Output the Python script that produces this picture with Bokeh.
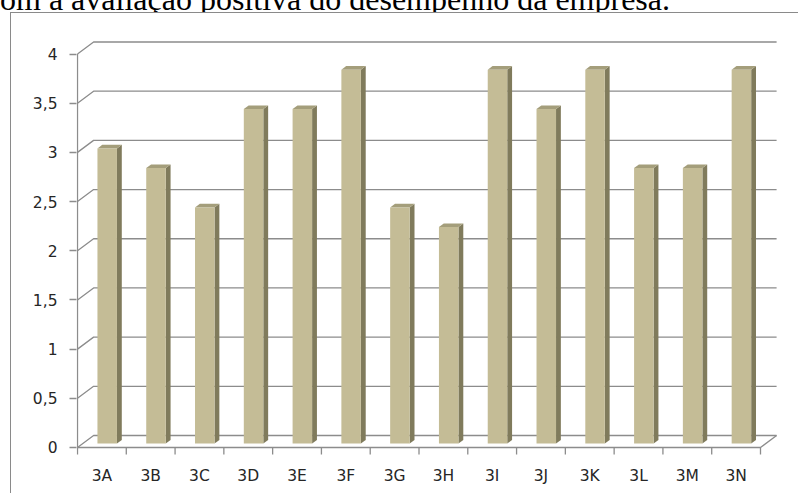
from bokeh.plotting import figure
from bokeh.models import Range1d, FixedTicker, Div
from bokeh.layouts import column
from bokeh.embed import file_html
from bokeh.resources import INLINE

# ---- data ----
categories = ["3A", "3B", "3C", "3D", "3E", "3F", "3G",
              "3H", "3I", "3J", "3K", "3L", "3M", "3N"]
scores = [3.0, 2.8, 2.4, 3.4, 3.4, 3.8, 2.4, 2.2, 3.8, 3.4, 3.8, 2.8, 2.8, 3.8]
y_ticks = [0, 0.5, 1, 1.5, 2, 2.5, 3, 3.5, 4]
y_tick_labels = ["0", "0,5", "1", "1,5", "2", "2,5", "3", "3,5", "4"]
heading = "om a avaliação positiva do desempenho da empresa."

# ---- 3-D look (oblique projection, in data units) ----
DEPTH_X, DEPTH_Y = 0.33, 0.122      # depth vector of the chart box
BAR_W = 0.40                         # bar width (fraction of category)
BAR_FRONT, BAR_DEPTH = 0.33, 0.30    # where the bar sits inside the depth

FACE = "#C4BC96"
SIDE = "#807B5C"
TOP = "#A49E7B"
GRID = "#8C8C8C"
TEXT = "#262626"
BOX = "#8A8A8A"

n = len(categories)
y_max = y_ticks[-1]

p = figure(width=788, height=481, output_backend="svg", toolbar_location=None,
           x_range=Range1d(-0.0205, 14.615), y_range=Range1d(-0.0915, 4.239),
           min_border_left=65, min_border_right=9, min_border_top=17,
           min_border_bottom=38,
           margin=(0, 0, 0, 10),
           styles={"border-left": f"1px solid {BOX}", "border-top": f"1px solid {BOX}"})
p.background_fill_color = "white"
p.border_fill_color = "white"
p.outline_line_color = None
p.xgrid.visible = False
p.ygrid.visible = False

# back wall gridlines (with the side-wall diagonal) for every value tick
for t in y_ticks:
    p.line([0, DEPTH_X, n + DEPTH_X], [t, t + DEPTH_Y, t + DEPTH_Y],
           line_color=GRID, line_width=1.3)

# floor: front edge and right edge
p.line([0, n, n + DEPTH_X], [0, 0, DEPTH_Y], line_color=GRID, line_width=1.3)
# front value axis line
p.line([0, 0], [0, y_max], line_color=GRID, line_width=1.3)
# category boundary ticks
bounds = list(range(n + 1))
p.segment(x0=bounds, y0=[0] * len(bounds), x1=bounds, y1=[-0.07] * len(bounds),
          line_color=GRID, line_width=1.3)

# bars
fx0, fy0 = BAR_FRONT * DEPTH_X, BAR_FRONT * DEPTH_Y
bx, by = (BAR_FRONT + BAR_DEPTH) * DEPTH_X, (BAR_FRONT + BAR_DEPTH) * DEPTH_Y
left = [i + 0.5 - BAR_W / 2 for i in range(n)]
right = [i + 0.5 + BAR_W / 2 for i in range(n)]

side_xs = [[r + fx0, r + bx, r + bx, r + fx0] for r in right]
side_ys = [[fy0, by, v + by, v + fy0] for v in scores]
p.patches(side_xs, side_ys, fill_color=SIDE, line_color=None)

top_xs = [[l + fx0, l + bx, r + bx, r + fx0] for l, r in zip(left, right)]
top_ys = [[v + fy0, v + by, v + by, v + fy0] for v in scores]
p.patches(top_xs, top_ys, fill_color=TOP, line_color=None)

p.quad(left=[l + fx0 for l in left], right=[r + fx0 for r in right],
       bottom=fy0, top=[v + fy0 for v in scores],
       fill_color=FACE, line_color=None)

# value axis
ya = p.yaxis[0]
ya.ticker = FixedTicker(ticks=y_ticks)
ya.major_label_overrides = {float(t): s for t, s in zip(y_ticks, y_tick_labels)}
ya.axis_line_color = None
ya.major_tick_line_color = GRID
ya.major_tick_line_width = 1.3
ya.major_tick_in = 0
ya.major_tick_out = 7
ya.minor_tick_line_color = None
ya.major_label_standoff = 12
ya.major_label_text_font = "DejaVu Sans"
ya.major_label_text_font_size = "15.5px"
ya.major_label_text_color = TEXT

# category axis
xa = p.xaxis[0]
centers = [i + 0.5 for i in range(n)]
xa.ticker = FixedTicker(ticks=centers)
xa.major_label_overrides = {c: s for c, s in zip(centers, categories)}
xa.axis_line_color = None
xa.major_tick_line_color = None
xa.major_tick_in = 0
xa.major_tick_out = 0
xa.minor_tick_line_color = None
xa.major_label_standoff = 10
xa.major_label_text_font = "DejaVu Sans"
xa.major_label_text_font_size = "15.5px"
xa.major_label_text_color = TEXT

# line of page text above the chart: a 12px window onto its lower part
header = Div(
    text=(f'<div style="height:12px;overflow:hidden;margin:0;padding:0">'
          f'<div style="margin:-17px 0 0 0;padding:0;'
          f'font-family:\'Liberation Serif\';font-size:32px;line-height:32px;'
          f'white-space:nowrap;color:black">{heading}</div></div>'),
    width=799, height=12, margin=(0, 0, 0, 0),
    styles={"overflow": "hidden"})

layout = column(header, p, spacing=0, margin=(0, 0, 0, 0))

open("out.html", "w").write(file_html(layout, INLINE))
